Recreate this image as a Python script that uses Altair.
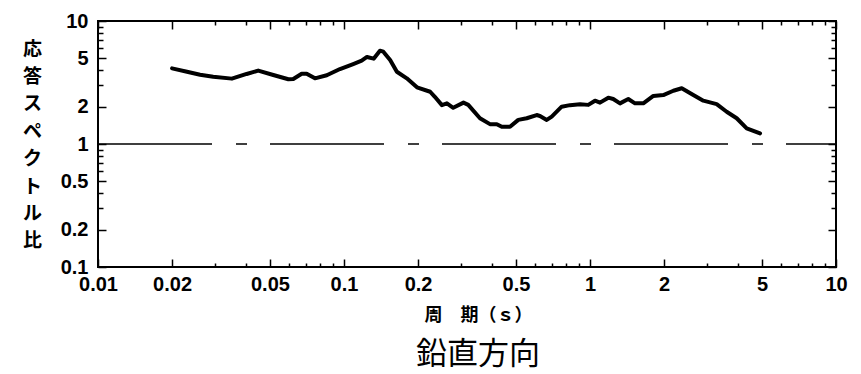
import altair as alt
import pandas as pd

# ---- data ----
period = [0.0200, 0.0230, 0.0260, 0.0294, 0.0350, 0.0402, 0.0448, 0.0516, 0.0594, 0.0622,
          0.0673, 0.0705, 0.0762, 0.0851, 0.0963, 0.109, 0.118, 0.124, 0.132, 0.140,
          0.1445, 0.154, 0.164, 0.180, 0.198, 0.224, 0.234, 0.250, 0.262, 0.278,
          0.306, 0.320, 0.357, 0.392, 0.418, 0.438, 0.473, 0.511, 0.553, 0.607,
          0.626, 0.667, 0.699, 0.767, 0.829, 0.911, 0.984, 1.048, 1.098, 1.187,
          1.243, 1.324, 1.431, 1.524, 1.647, 1.809, 1.986, 2.182, 2.360, 2.630,
          2.888, 3.273, 3.594, 3.948, 4.335, 4.911]
ratio = [4.12, 3.87, 3.66, 3.52, 3.40, 3.71, 3.95, 3.64, 3.36, 3.38,
         3.73, 3.73, 3.42, 3.62, 4.07, 4.47, 4.76, 5.10, 4.94, 5.74,
         5.63, 4.82, 3.87, 3.42, 2.89, 2.66, 2.42, 2.07, 2.14, 1.97,
         2.17, 2.08, 1.62, 1.45, 1.45, 1.38, 1.38, 1.57, 1.62, 1.72,
         1.69, 1.57, 1.67, 2.01, 2.07, 2.10, 2.08, 2.25, 2.17, 2.38,
         2.32, 2.14, 2.32, 2.14, 2.14, 2.46, 2.50, 2.71, 2.84, 2.50,
         2.25, 2.11, 1.83, 1.62, 1.34, 1.22]
ref_level = [1.0]

x_domain = [0.01, 10]
y_domain = [0.1, 10]
major_x = [0.01, 0.02, 0.05, 0.1, 0.2, 0.5, 1, 2, 5, 10]
minor_x = [0.03, 0.04, 0.06, 0.07, 0.08, 0.09, 0.3, 0.4, 0.6, 0.7, 0.8, 0.9,
           3, 4, 6, 7, 8, 9]
major_y = [0.1, 0.2, 0.5, 1, 2, 5, 10]
minor_y = [0.3, 0.4, 0.6, 0.7, 0.8, 0.9, 3, 4, 6, 7, 8, 9]

x_title = "周　期（ｓ）"
y_title = "応答スペクトル比"
chart_title = "鉛直方向"

df = pd.DataFrame({"period": period, "ratio": ratio})
ref_df = pd.DataFrame({"level": ref_level})

W, H = 738, 246
LBL = "Liberation Sans"
CJK = "Noto Sans CJK JP"

xs = alt.Scale(type="log", domain=x_domain, nice=False)
ys = alt.Scale(type="log", domain=y_domain, nice=False)


def inaxis(orient, values, size, labels=False, title=None, **kw):
    # ticks pointing into the plot: a negative length given as an expression
    return alt.Axis(orient=orient, values=values, tickSize={"expr": str(-size)},
                    domain=False, grid=False, labels=labels, title=title, ticks=True,
                    tickColor="black", tickWidth=1.5, **kw)


line = alt.Chart(df).mark_line(color="black", strokeWidth=4,
                               strokeJoin="round", strokeCap="round").encode(
    x=alt.X("period:Q", scale=xs,
            axis=inaxis("bottom", major_x, 8, labels=True, title=x_title,
                        labelFont=LBL, labelFontSize=20, labelFontWeight="bold",
                        labelColor="black", labelPadding=15, labelFlush=False,
                        labelOverlap=False, labelBound=False, format="~g",
                        titleFont=CJK, titleFontSize=18, titleFontWeight="bold",
                        titleColor="black", titleX=380, titleY=48,
                        titleAlign="center", titleBaseline="middle")),
    y=alt.Y("ratio:Q", scale=ys,
            axis=inaxis("left", major_y, 8, labels=True, title=list(y_title),
                        labelFont=LBL, labelFontSize=20, labelFontWeight="bold",
                        labelColor="black", labelPadding=18, labelFlush=False,
                        labelOverlap=False, labelBound=False, format="~g",
                        titleFont=CJK, titleFontSize=19, titleFontWeight="bold",
                        titleColor="black", titleAngle=0, titleX=-66, titleY=28,
                        titleAlign="center", titleBaseline="middle",
                        titleLineHeight=27.4)),
)

rule = alt.Chart(ref_df).mark_rule(color="black", strokeWidth=1.5,
                                   strokeDash=[114, 24, 11, 23]).encode(
    x=alt.XDatum(x_domain[0], scale=xs, axis=None),
    x2=alt.X2Datum(x_domain[1]),
    y=alt.Y("level:Q", scale=ys, axis=None),
)

minor_bl = alt.Chart(df).mark_point(opacity=0).encode(
    x=alt.X("period:Q", scale=xs, axis=inaxis("bottom", minor_x, 4)),
    y=alt.Y("ratio:Q", scale=ys, axis=inaxis("left", minor_y, 5)),
)
major_tr = alt.Chart(df).mark_point(opacity=0).encode(
    x=alt.X("period:Q", scale=xs, axis=inaxis("top", major_x, 8)),
    y=alt.Y("ratio:Q", scale=ys, axis=inaxis("right", major_y, 8)),
)
minor_tr = alt.Chart(df).mark_point(opacity=0).encode(
    x=alt.X("period:Q", scale=xs, axis=inaxis("top", minor_x, 4)),
    y=alt.Y("ratio:Q", scale=ys, axis=inaxis("right", minor_y, 5)),
)

chart = alt.layer(line, rule, minor_bl, major_tr, minor_tr).resolve_axis(
    x="independent", y="independent"
).properties(
    width=W, height=H,
    autosize=alt.AutoSizeParams(type="none"),
    padding={"left": 90, "top": 13, "right": 15, "bottom": 106},
    background="white",
    title=alt.TitleParams(chart_title, orient="bottom", anchor="middle",
                          font=CJK, fontSize=31, fontWeight="normal",
                          color="black", dx=11, offset=16),
).configure_view(stroke="black", strokeWidth=2).configure_axis(grid=False)

chart.save("out.html", embed_options={"renderer": "svg", "actions": False})
